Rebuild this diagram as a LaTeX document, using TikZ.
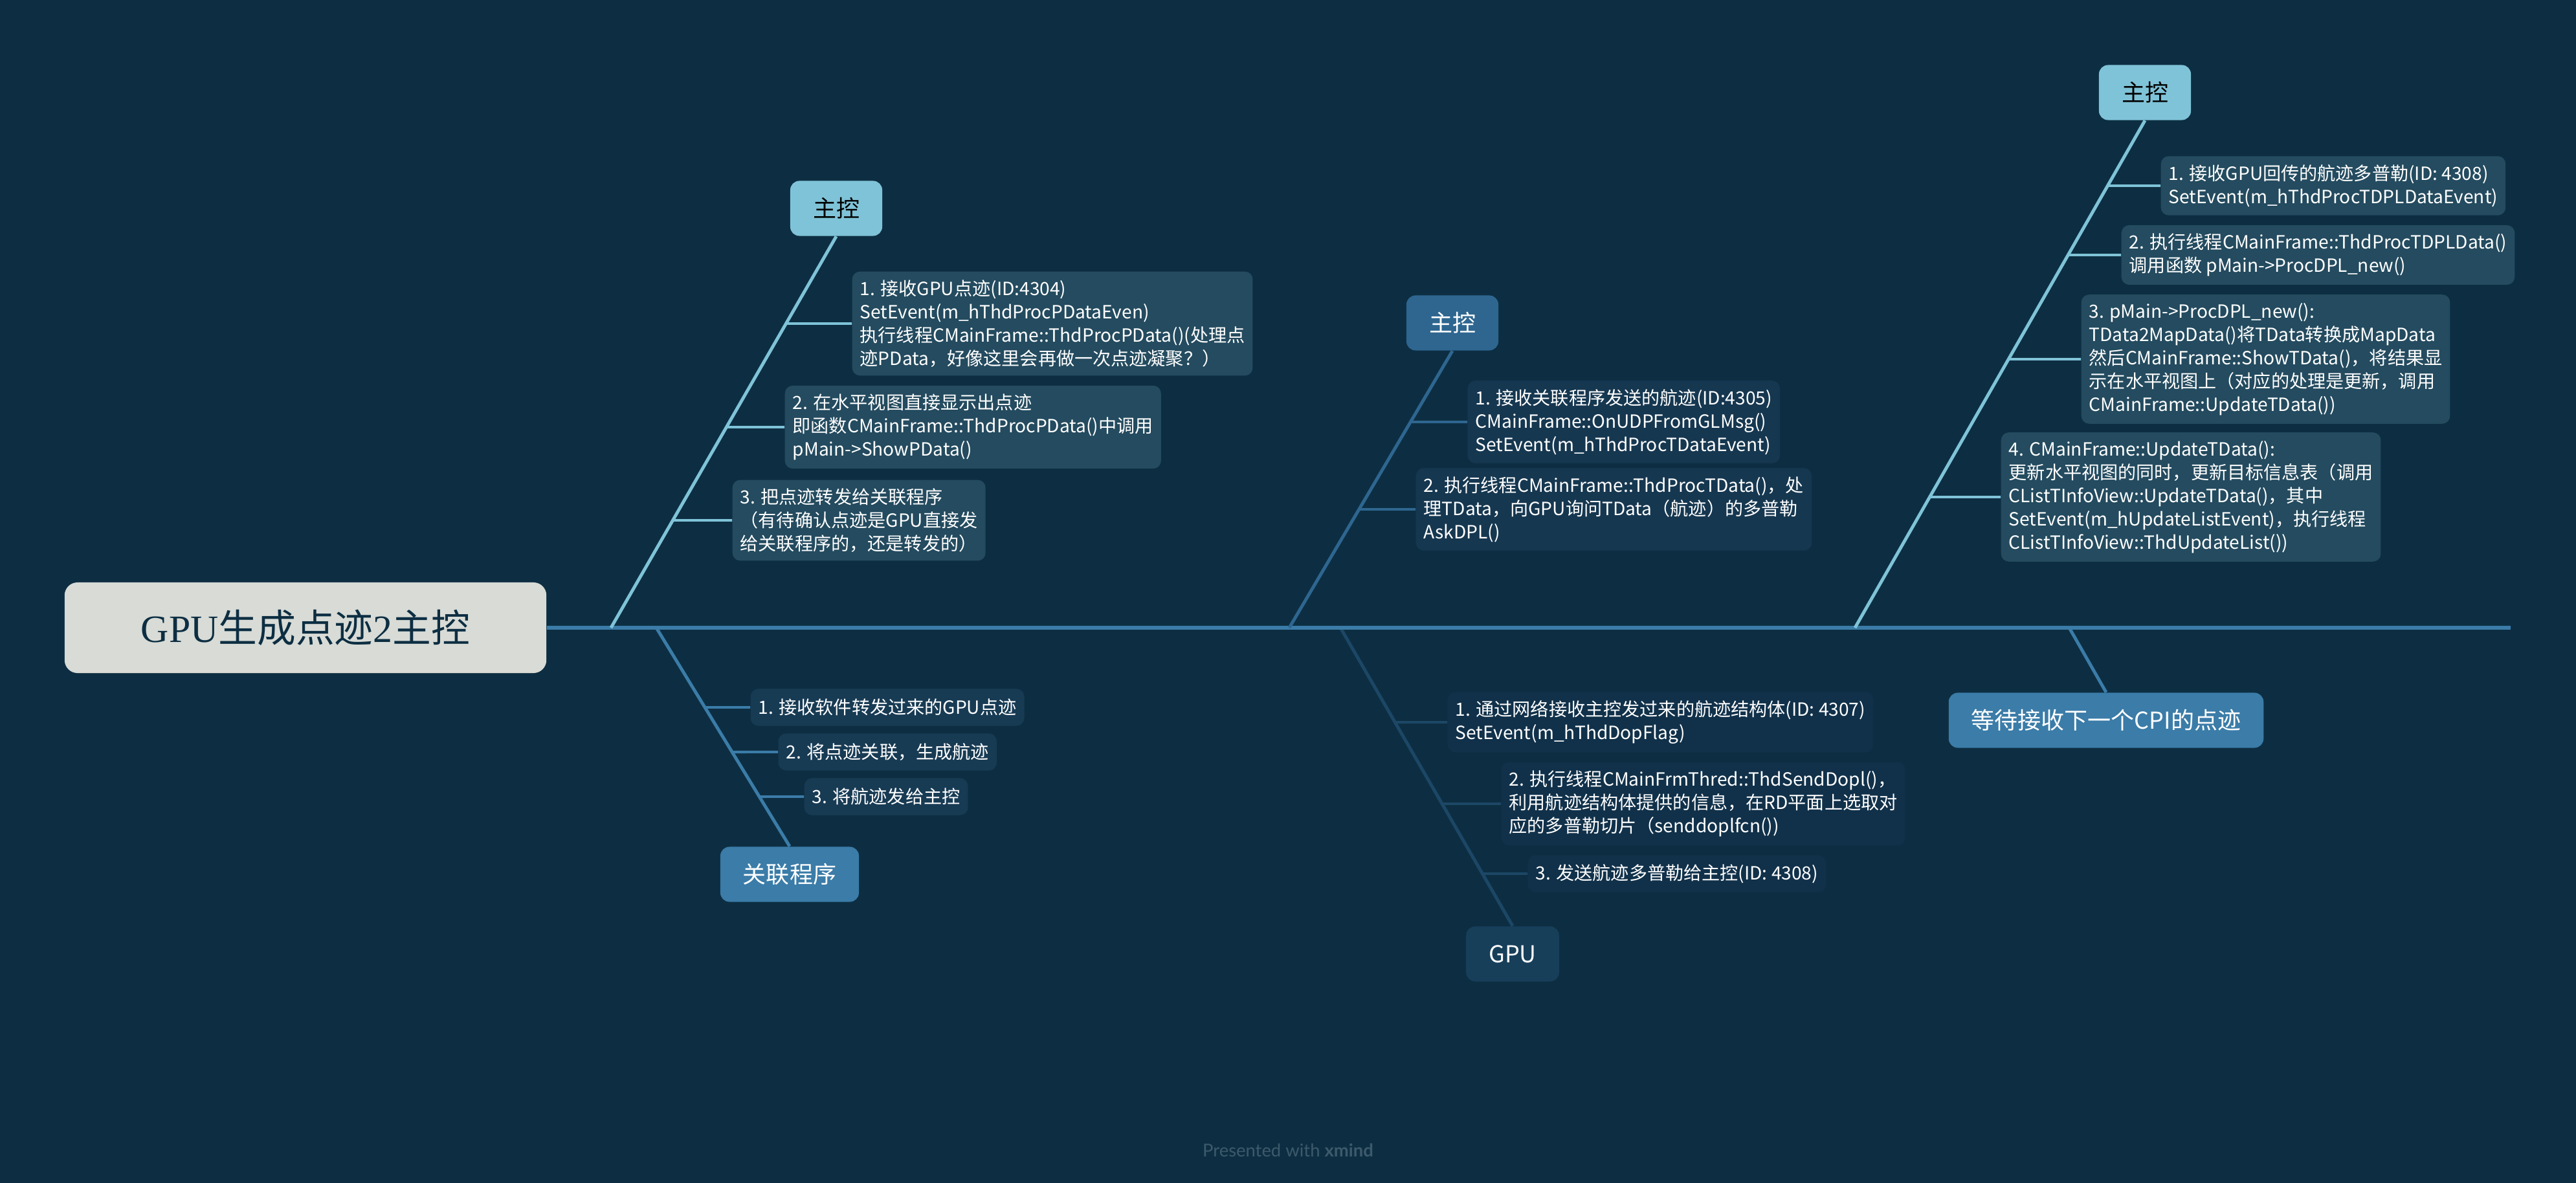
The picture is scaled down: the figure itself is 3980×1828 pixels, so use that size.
\documentclass[tikz,border=0pt]{standalone}
\usepackage{fontspec}
\setmainfont{Noto Sans CJK SC}
\newfontfamily\titlefont{Liberation Serif}
\newfontfamily\footfont{Lato}
\definecolor{bgnavy}{HTML}{0D2E42}
\definecolor{rootgrey}{HTML}{D8DBD6}
\definecolor{skyblue}{HTML}{7FC3D8}
\definecolor{steelblue}{HTML}{3B7CA8}
\definecolor{deepblue}{HTML}{2E6690}
\definecolor{gpublue}{HTML}{173F5A}
\definecolor{gpuline}{HTML}{1C4766}
\definecolor{tealbox}{HTML}{244B5F}
\definecolor{navybox}{HTML}{163750}
\definecolor{assocbox}{HTML}{183B54}
\definecolor{gpubox}{HTML}{11314A}
\definecolor{footgrey}{HTML}{3D5A6B}
\tikzset{
  topic/.style={rounded corners=0.14cm, minimum height=0.85cm, inner xsep=0.35cm, font=\fontsize{10.24}{12}\selectfont},
  item/.style={rounded corners=0.12cm, anchor=west, align=left, minimum height=0.57cm, inner xsep=0.12cm, inner ysep=0.13cm, text=white, font=\fontsize{8}{10.24}\selectfont},
  bone/.style={line width=1.4pt},
  twig/.style={line width=1.1pt}
}
\begin{document}
\begin{tikzpicture}[x=0.01cm,y=-0.01cm]
\fill[bgnavy] (0,0) rectangle (3980,1828);
\coordinate (tail) at (3879,970);
\coordinate (j1) at (944,970);
\coordinate (j2) at (1014,970);
\coordinate (j3) at (1992,970);
\coordinate (j4) at (2071,970);
\coordinate (j5) at (2866,970);
\coordinate (j6) at (3197,970);
\node[fill=rootgrey,text=bgnavy,rounded corners=0.2cm,minimum width=7.44cm,minimum height=1.4cm,font=\fontsize{17}{20}\selectfont] (root) at (472,970) {{\titlefont GPU}生成点迹{\titlefont 2}主控};
\node[topic,fill=skyblue,text=black] (m1) at (1292,322) {主控};
\node[topic,fill=steelblue,text=white] (m2) at (1220,1351) {关联程序};
\node[topic,fill=deepblue,text=white] (m3) at (2244,499) {主控};
\node[topic,fill=gpublue,text=white] (m4) at (2337,1474) {GPU};
\node[topic,fill=skyblue,text=black] (m5) at (3314,143) {主控};
\node[topic,fill=steelblue,text=white] (m6) at (3254,1113) {等待接收下一个CPI的点迹};
\draw[bone,gpuline] (j4) -- (m4.north);
\draw[steelblue,line width=1.7pt] (root) -- (tail);
\draw[bone,skyblue] (j1) -- (m1.south);
\draw[bone,steelblue] (j2) -- (m2.north);
\draw[bone,deepblue] (j3) -- (m3.south);
\draw[bone,skyblue] (j5) -- (m5.south);
\draw[bone,steelblue] (j6) -- (m6.north);
\node[item,fill=tealbox] (a1) at (1316,500) {1. 接收GPU点迹(ID:4304)\\SetEvent(m\_hThdProcPDataEven)\\执行线程CMainFrame::ThdProcPData()(处理点\\迹PData，好像这里会再做一次点迹凝聚？）};
\node[item,fill=tealbox] (a2) at (1212,660) {2. 在水平视图直接显示出点迹\\即函数CMainFrame::ThdProcPData()中调用\\pMain->ShowPData()};
\node[item,fill=tealbox] (a3) at (1131,804) {3. 把点迹转发给关联程序\\（有待确认点迹是GPU直接发\\给关联程序的，还是转发的）};
\node[item,fill=assocbox] (b1) at (1159,1093) {1. 接收软件转发过来的GPU点迹};
\node[item,fill=assocbox] (b2) at (1202,1162) {2. 将点迹关联，生成航迹};
\node[item,fill=assocbox] (b3) at (1242,1231) {3. 将航迹发给主控};
\node[item,fill=navybox] (c1) at (2267,652) {1. 接收关联程序发送的航迹(ID:4305)\\CMainFrame::OnUDPFromGLMsg()\\SetEvent(m\_hThdProcTDataEvent)};
\node[item,fill=navybox] (c2) at (2187,787) {2. 执行线程CMainFrame::ThdProcTData()，处\\理TData，向GPU询问TData（航迹）的多普勒\\AskDPL()};
\node[item,fill=gpubox] (d1) at (2236,1116) {1. 通过网络接收主控发过来的航迹结构体(ID: 4307)\\SetEvent(m\_hThdDopFlag)};
\node[item,fill=gpubox] (d2) at (2319,1242) {2. 执行线程CMainFrmThred::ThdSendDopl()，\\利用航迹结构体提供的信息，在RD平面上选取对\\应的多普勒切片（senddoplfcn())};
\node[item,fill=gpubox] (d3) at (2360,1350) {3. 发送航迹多普勒给主控(ID: 4308)};
\node[item,fill=tealbox] (e1) at (3338,287) {1. 接收GPU回传的航迹多普勒(ID: 4308)\\SetEvent(m\_hThdProcTDPLDataEvent)};
\node[item,fill=tealbox] (e2) at (3277,394) {2. 执行线程CMainFrame::ThdProcTDPLData()\\调用函数 pMain->ProcDPL\_new()};
\node[item,fill=tealbox] (e3) at (3215,555) {3. pMain->ProcDPL\_new():\\TData2MapData()将TData转换成MapData\\然后CMainFrame::ShowTData()，将结果显\\示在水平视图上（对应的处理是更新，调用\\CMainFrame::UpdateTData())};
\node[item,fill=tealbox] (e4) at (3091,768) {4. CMainFrame::UpdateTData():\\更新水平视图的同时，更新目标信息表（调用\\CListTInfoView::UpdateTData()，其中\\SetEvent(m\_hUpdateListEvent)，执行线程\\CListTInfoView::ThdUpdateList())};
\draw[twig,skyblue] (a1.west) -- (intersection of j1--m1.south and a1.west--a1.east);
\draw[twig,skyblue] (a2.west) -- (intersection of j1--m1.south and a2.west--a2.east);
\draw[twig,skyblue] (a3.west) -- (intersection of j1--m1.south and a3.west--a3.east);
\draw[twig,steelblue] (b1.west) -- (intersection of j2--m2.north and b1.west--b1.east);
\draw[twig,steelblue] (b2.west) -- (intersection of j2--m2.north and b2.west--b2.east);
\draw[twig,steelblue] (b3.west) -- (intersection of j2--m2.north and b3.west--b3.east);
\draw[twig,deepblue] (c1.west) -- (intersection of j3--m3.south and c1.west--c1.east);
\draw[twig,deepblue] (c2.west) -- (intersection of j3--m3.south and c2.west--c2.east);
\draw[twig,gpuline] (d1.west) -- (intersection of j4--m4.north and d1.west--d1.east);
\draw[twig,gpuline] (d2.west) -- (intersection of j4--m4.north and d2.west--d2.east);
\draw[twig,gpuline] (d3.west) -- (intersection of j4--m4.north and d3.west--d3.east);
\draw[twig,skyblue] (e1.west) -- (intersection of j5--m5.south and e1.west--e1.east);
\draw[twig,skyblue] (e2.west) -- (intersection of j5--m5.south and e2.west--e2.east);
\draw[twig,skyblue] (e3.west) -- (intersection of j5--m5.south and e3.west--e3.east);
\draw[twig,skyblue] (e4.west) -- (intersection of j5--m5.south and e4.west--e4.east);
\node[text=footgrey,font=\footfont\fontsize{7.8}{9}\selectfont] (credit) at (1990,1777) {Presented with \textbf{xmind}};
\end{tikzpicture}
\end{document}
